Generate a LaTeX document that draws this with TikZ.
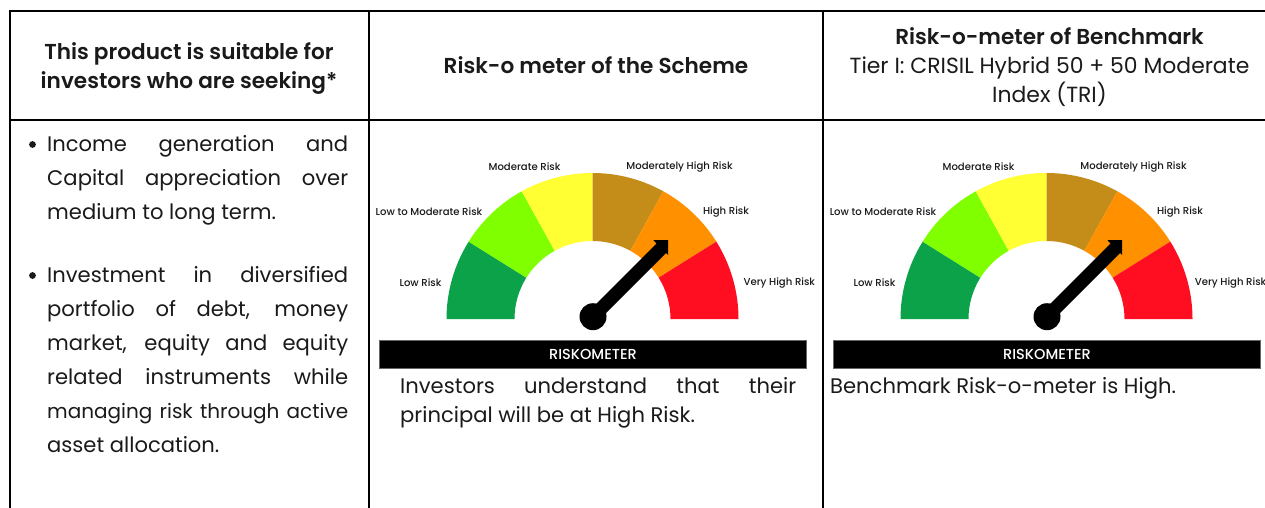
\documentclass[tikz,border=0pt]{standalone}
\usepackage{fontspec}
\setmainfont{Poppins}
\newfontfamily\semib{Poppins SemiBold}
\newfontfamily\medi{Poppins Medium}
\definecolor{gA}{HTML}{0CA24A}
\definecolor{gB}{HTML}{80FF00}
\definecolor{gC}{HTML}{FFFF33}
\definecolor{gD}{HTML}{C48C18}
\definecolor{gE}{HTML}{FF9000}
\definecolor{gF}{HTML}{FF0D20}
\definecolor{ink}{HTML}{1A1A1A}
\hyphenpenalty=10000
\tikzset{
  x=1pt,y=-1pt,
  rule/.style={line width=2pt,black},
  body/.style={inner sep=0pt,anchor=north west,align=justify,font=\fontsize{21.1}{34}\selectfont,text=ink},
  bodytight/.style={body,font=\fontsize{21.1}{29.5}\selectfont},
  head/.style={inner sep=0pt,align=center,font=\fontsize{21.6}{29}\selectfont\semib,text=ink},
  headmix/.style={inner sep=0pt,align=center,font=\fontsize{21.9}{29}\selectfont,text=ink},
  small/.style={inner sep=0pt,font=\fontsize{10.1}{11}\selectfont\medi,text=ink},
  barlabel/.style={inner sep=0pt,font=\fontsize{14.5}{16}\selectfont\medi,text=white}
}
\newcommand{\gaugeAt}[3]{%
  \begin{scope}[shift={(#1,0)}]
    \foreach \a/\b/\c in {180/148/gA,148/119/gB,119/90/gC,90/61/gD,61/32/gE,32/0/gF}{
      \fill[\c] ({592.5+146*cos(\a)},{319-146*sin(\a)})
        arc[start angle=-\a,end angle=-\b,radius=146]
        -- ({592.5+78*cos(\b)},{319-78*sin(\b)})
        arc[start angle=-\b,end angle=-\a,radius=78] -- cycle;
    }
    \fill[black] (593,316.7) circle[radius=13.5];
    \fill[black] (588,312) -- (656.5,243.5) -- (653.3,240) -- (668,240) -- (668,255) -- (666,253) -- (597.5,321.5) -- cycle;
    \fill[black,draw=black!60,line width=.5pt] (379.5,340) rectangle (806.5,368.5);
    \node[barlabel] (#2bar) at (593,354) {RISKOMETER};
    \node[small] (#2a) at (420.5,282.5) {Low Risk};
    \node[small] (#2b) at (429,212) {Low to Moderate Risk};
    \node[small] (#2c) at (524.5,167) {Moderate Risk};
    \node[small] (#2d) at (679.5,167) {Moderately High Risk};
    \node[small] (#2e) at (726,212) {High Risk};
    \node[small] (#2f) at (#3,282.5) {Very High Risk};
  \end{scope}}
\begin{document}
\begin{tikzpicture}
\useasboundingbox (0,0) rectangle (1265,508);
\fill[white] (0,0) rectangle (1265,508);
\draw[rule] (10,508) -- (10,11) -- (1265,11);
\draw[rule] (10,120) -- (1265,120);
\draw[rule] (369,11) -- (369,508);
\draw[rule] (823,11) -- (823,508);
\node[head] (h1) at (189,68) {This product is suitable for\\investors who are seeking*};
\node[head] (h2) at (596,65.5) {Risk-o meter of the Scheme};
\node[headmix] (h3) at (1049.5,67) {{\semib\fontsize{21.6}{29}\selectfont Risk-o-meter of Benchmark}\\Tier I: CRISIL Hybrid 50 + 50 Moderate\\Index (TRI)};
\fill[ink] (32.5,144.5) circle[radius=3.4];
\fill[ink] (32.5,275.5) circle[radius=3.4];
\node[body,text width=301pt] (p1) at (47,135) {Income generation and\linebreak Capital appreciation over\linebreak medium to long term.};
\node[body,text width=301pt] (p2) at (47,266) {Investment in diversified\linebreak portfolio of debt, money\linebreak market, equity and equity\linebreak related instruments while\linebreak \hbox to 301pt{\fontsize{20}{34}\selectfont managing\hfil risk\hfil through\hfil active}\linebreak asset allocation.};
\gaugeAt{0}{m}{779.3}
\gaugeAt{454}{n}{776.5}
\node[bodytight,text width=396pt] (p3) at (400,377) {Investors understand that their\linebreak principal will be at High Risk.};
\node[bodytight,text width=400pt] (p4) at (830,377) {Benchmark Risk-o-meter is High.};
\end{tikzpicture}
\end{document}
